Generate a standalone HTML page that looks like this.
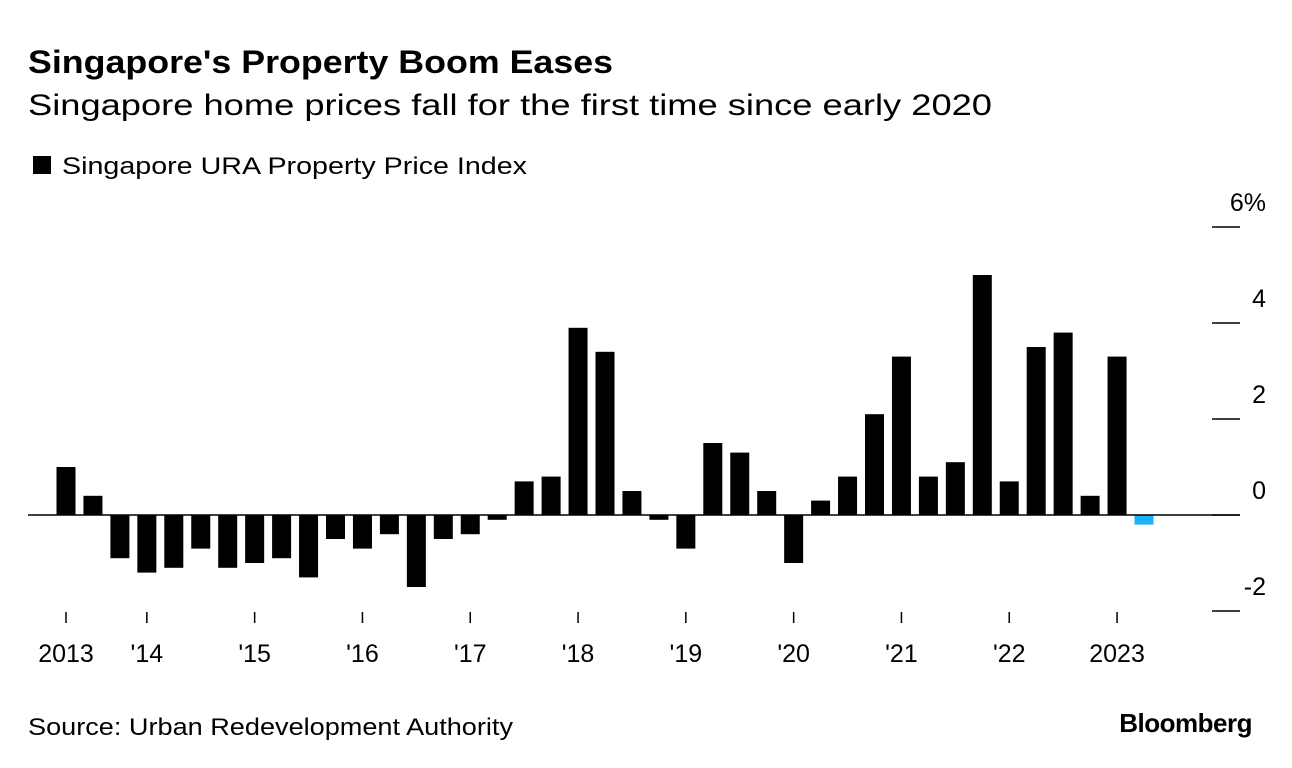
<!DOCTYPE html>
<html><head><meta charset="utf-8"><style>
body{margin:0;background:#fff;font-family:"Liberation Sans",sans-serif;}
svg{display:block}
</style></head><body>
<svg id="c" width="1292" height="768">
<text x="28" y="73" font-size="32" font-weight="bold" fill="#000" textLength="585" lengthAdjust="spacingAndGlyphs">Singapore's Property Boom Eases</text>
<text x="28" y="115" font-size="30" fill="#000" textLength="964" lengthAdjust="spacingAndGlyphs">Singapore home prices fall for the first time since early 2020</text>
<rect x="33" y="156" width="18" height="18" fill="#000"/>
<text x="62" y="174" font-size="24" fill="#000" textLength="465" lengthAdjust="spacingAndGlyphs">Singapore URA Property Price Index</text>
<g id="bars"></g>
<g id="yaxis"></g>
<g id="xaxis"></g>
<text x="28" y="735" font-size="24" fill="#000" textLength="485" lengthAdjust="spacingAndGlyphs">Source: Urban Redevelopment Authority</text>
<text x="1252" y="732" font-size="26" font-weight="bold" fill="#000" text-anchor="end" letter-spacing="-0.5">Bloomberg</text>
</svg>
<script>
const values=[1.0,0.4,-0.9,-1.2,-1.1,-0.7,-1.1,-1.0,-0.9,-1.3,-0.5,-0.7,-0.4,-1.5,-0.5,-0.4,-0.1,0.7,0.8,3.9,3.4,0.5,-0.1,-0.7,1.5,1.3,0.5,-1.0,0.3,0.8,2.1,3.3,0.8,1.1,5.0,0.7,3.5,3.8,0.4,3.3,-0.2];
const yTicks=[6,4,2,0,-2];
const yTickLabels=["6%","4","2","0","-2"];
const xTickIdx=[0,3,7,11,15,19,23,27,31,35,39];
const xTickLabels=["2013","'14","'15","'16","'17","'18","'19","'20","'21","'22","2023"];
const NS="http://www.w3.org/2000/svg";
const y=v=>515-v*48;
const x=i=>66+i*26.95;
const bw=19;
function mk(t,a,p){const e=document.createElementNS(NS,t);for(const k in a)e.setAttribute(k,a[k]);p.appendChild(e);return e;}
const bars=document.getElementById('bars');
values.forEach((v,i)=>{
 const last=i===values.length-1;
 const r=mk('rect',{x:x(i)-bw/2,y:Math.min(y(v),y(0)),width:bw,height:Math.abs(y(v)-y(0)),fill:last?'#1ab2ff':'#000'},bars);
 
 
});
const ya=document.getElementById('yaxis');
const zl=mk('line',{x1:28,x2:1240,y1:y(0),y2:y(0),stroke:'#000','stroke-width':1.5},ya);


yTicks.forEach((t,i)=>{
 const l=mk('line',{x1:1212,x2:1240,y1:y(t),y2:y(t),stroke:'#000','stroke-width':1.5},ya);
 
 
 const tx=mk('text',{x:1266,y:y(t)-16,'font-size':25,'text-anchor':'end',fill:'#000'},ya);
 tx.textContent=yTickLabels[i];
 
 
});
const xa=document.getElementById('xaxis');
xTickIdx.forEach((idx,i)=>{
 const l=mk('line',{x1:x(idx),x2:x(idx),y1:612,y2:623,stroke:'#000','stroke-width':1.5},xa);
 
 
 const tx=mk('text',{x:x(idx),y:662,'font-size':25,'text-anchor':'middle',fill:'#000'},xa);
 tx.textContent=xTickLabels[i];
 
 
});
</script>
</body></html>
